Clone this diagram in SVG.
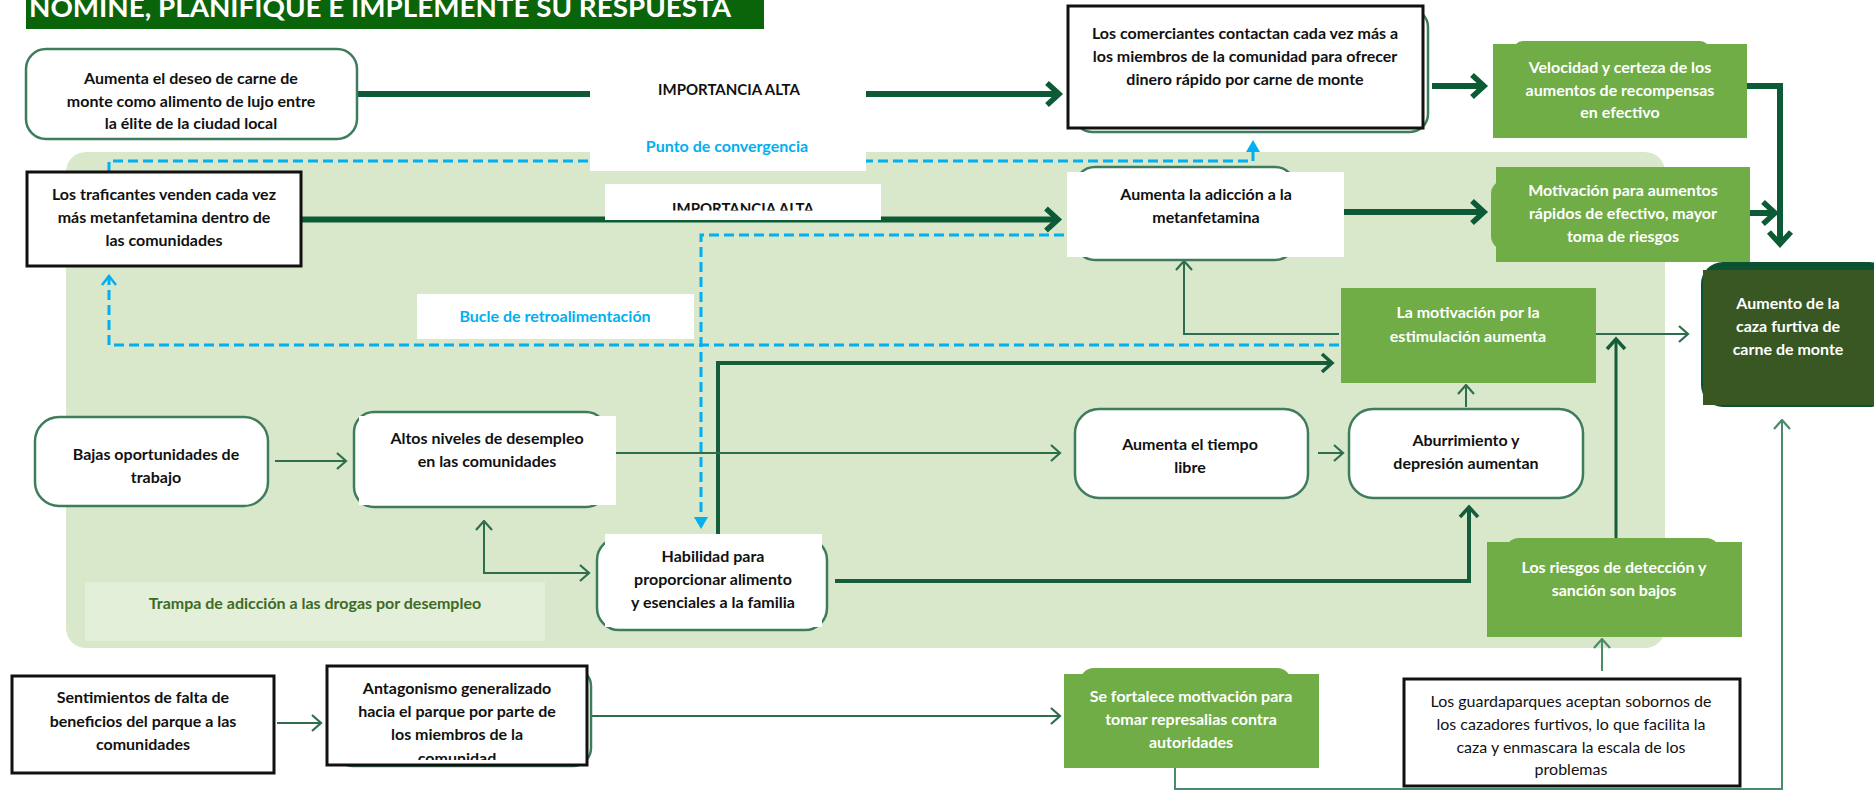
<svg xmlns="http://www.w3.org/2000/svg" width="1874" height="791" viewBox="0 0 1874 791">
  <defs>
    <style>
      .t { font-family: Lato, "Liberation Sans", sans-serif; font-weight: 700; font-size: 16px; fill: #111111; text-anchor: middle; }
      .tw { fill: #ffffff; }
      .reg { font-weight: 400; }
      .blue { fill: #00b0f0; }
      .cap { font-size: 15px; }
      .round { fill: #ffffff; stroke: #3e7c5c; stroke-width: 2.5; }
      .boxed { fill: #ffffff; stroke: #111111; stroke-width: 3; }
      .green { fill: #70ad47; }
      .thick { fill: none; stroke: #0c5a36; stroke-width: 6; }
      .mid { fill: none; stroke: #155d3a; stroke-width: 4; }
      .thin { fill: none; stroke: #2e6e4e; stroke-width: 2; }
      .light { fill: none; stroke: #4b8a6a; stroke-width: 2; }
      .dash { fill: none; stroke: #00b0f0; stroke-width: 3; stroke-dasharray: 10 5; }
    </style>
    <marker id="ahThick" viewBox="0 0 20 28" markerWidth="20" markerHeight="28" refX="15" refY="14" orient="auto" markerUnits="userSpaceOnUse">
      <path d="M3,3 L15,14 L3,25" fill="none" stroke="#0c5a36" stroke-width="5.5"/>
    </marker>
    <marker id="ahMid" viewBox="0 0 16 22" markerWidth="16" markerHeight="22" refX="12" refY="11" orient="auto" markerUnits="userSpaceOnUse">
      <path d="M2,2 L12,11 L2,20" fill="none" stroke="#155d3a" stroke-width="3.5"/>
    </marker>
    <marker id="ahThin" viewBox="0 0 12 20" markerWidth="12" markerHeight="20" refX="10.5" refY="10" orient="auto-start-reverse" markerUnits="userSpaceOnUse">
      <path d="M1.5,2 L10.5,10 L1.5,18" fill="none" stroke="#2e6e4e" stroke-width="2.2"/>
    </marker>
    <marker id="ahLight" viewBox="0 0 12 20" markerWidth="12" markerHeight="20" refX="10.5" refY="10" orient="auto" markerUnits="userSpaceOnUse">
      <path d="M1.5,2 L10.5,10 L1.5,18" fill="none" stroke="#4b8a6a" stroke-width="2.2"/>
    </marker>
    <marker id="ahBlueFill" viewBox="0 0 12 14" markerWidth="12" markerHeight="14" refX="2" refY="7" orient="auto" markerUnits="userSpaceOnUse">
      <path d="M0,0 L12,7 L0,14 Z" fill="#00b0f0"/>
    </marker>
    <marker id="ahBlueOpen" viewBox="0 0 12 16" markerWidth="12" markerHeight="16" refX="10" refY="8" orient="auto" markerUnits="userSpaceOnUse">
      <path d="M1,1 L10,8 L1,15" fill="none" stroke="#00b0f0" stroke-width="2.5"/>
    </marker>
    <clipPath id="clipImp2"><rect x="605" y="184" width="276" height="26.5"/></clipPath>
    <clipPath id="clipAntag"><rect x="329" y="668" width="256" height="92"/></clipPath>
  </defs>

  <rect width="1874" height="791" fill="#ffffff"/>

  <!-- heading banner -->
  <g id="title">
    <rect x="26" y="0" width="738" height="29" fill="#0a640a"/>
    <text x="29" y="17" font-family="Lato, 'Liberation Sans', sans-serif" font-weight="700" font-size="27" fill="#ffffff" textLength="702" lengthAdjust="spacingAndGlyphs">NOMINE, PLANIFIQUE E IMPLEMENTE SU RESPUESTA</text>
  </g>

  <!-- shaded loop area -->
  <g id="loop-area">
    <rect x="66" y="152" width="1599" height="496" rx="20" fill="#d9e8cb"/>
    <rect x="85" y="582" width="460" height="59" fill="#e3efd9"/>
    <text class="t" x="315" y="609" style="fill:#3d6b24">Trampa de adicción a las drogas por desempleo</text>
  </g>

  <g id="connectors">
    <!-- strong links -->
    <path class="thick" d="M358,94 H1059" marker-end="url(#ahThick)"/>
    <path class="thick" d="M302,219.5 H1058" marker-end="url(#ahThick)"/>
    <path class="thick" d="M1432,86 H1484" marker-end="url(#ahThick)"/>
    <path class="thick" d="M1747,86 H1780 V244" marker-end="url(#ahThick)"/>
    <path class="thick" d="M1344,212 H1484" marker-end="url(#ahThick)"/>
    <path class="thick" d="M1750,213 H1775" marker-end="url(#ahThick)"/>
    <!-- medium links -->
    <path class="mid" d="M835,581 H1469 V507" marker-end="url(#ahMid)"/>
    <path class="mid" d="M718,534 V363 H1332" marker-end="url(#ahMid)"/>
    <path class="mid" d="M1616,542 V339" style="stroke-width:3" marker-end="url(#ahMid)"/>
    <!-- thin links -->
    <path class="thin" d="M275,461 H346" marker-end="url(#ahThin)"/>
    <path class="thin" d="M616,453 H1060" marker-end="url(#ahThin)"/>
    <path class="thin" d="M1318,453 H1343" marker-end="url(#ahThin)"/>
    <path class="thin" d="M1466,407 V385" marker-end="url(#ahThin)"/>
    <path class="thin" d="M1596,334 H1688" marker-end="url(#ahThin)"/>
    <path class="thin" d="M1339,334 H1184 V261" marker-end="url(#ahThin)"/>
    <path class="thin" d="M484,521 V573 H589" marker-start="url(#ahThin)" marker-end="url(#ahThin)"/>
    <path class="thin" d="M277,723 H321" marker-end="url(#ahThin)"/>
    <path class="thin" d="M587,716 H1060" marker-end="url(#ahThin)"/>
    <path class="light" d="M1602,671 V639" marker-end="url(#ahLight)"/>
    <path class="light" d="M1175,768 V789 H1782 V420" marker-end="url(#ahLight)"/>
    <!-- dashed feedback paths -->
    <path class="dash" d="M109,172 V161 H1253 V150" marker-end="url(#ahBlueFill)"/>
    <path class="dash" d="M1339,345 H109 V276" marker-end="url(#ahBlueOpen)"/>
    <path class="dash" d="M1064,235 H701 V519" marker-end="url(#ahBlueFill)"/>
  </g>

  <g id="labels">
    <rect x="590" y="62" width="276" height="109" fill="#ffffff"/>
    <text class="t cap" x="729" y="95">IMPORTANCIA ALTA</text>
    <text class="t blue" x="727" y="152">Punto de convergencia</text>
    <rect x="605" y="184" width="276" height="36" fill="#ffffff"/>
    <text class="t cap" x="743" y="213.5" clip-path="url(#clipImp2)">IMPORTANCIA ALTA</text>
    <rect x="417" y="294" width="277" height="45" fill="#ffffff"/>
    <text class="t blue" x="555" y="322">Bucle de retroalimentación</text>
  </g>

  <g id="node-deseo">
    <rect class="round" x="26" y="49" width="331" height="90" rx="20"/>
    <text class="t" x="191" y="84">Aumenta el deseo de carne de</text>
    <text class="t" x="191" y="107">monte como alimento de lujo entre</text>
    <text class="t" x="191" y="129">la élite de la ciudad local</text>
  </g>

  <g id="node-comerciantes">
    <rect class="round" x="1074" y="9" width="354" height="123" rx="18"/>
    <rect class="boxed" x="1068" y="6" width="355" height="122"/>
    <text class="t" x="1245" y="39">Los comerciantes contactan cada vez más a</text>
    <text class="t" x="1245" y="62">los miembros de la comunidad para ofrecer</text>
    <text class="t" x="1245" y="85">dinero rápido por carne de monte</text>
  </g>

  <g id="node-velocidad">
    <rect class="green" x="1513" y="41" width="197" height="20" rx="10"/>
    <rect class="green" x="1493" y="44" width="254" height="94"/>
    <text class="t tw" x="1620" y="73">Velocidad y certeza de los</text>
    <text class="t tw" x="1620" y="96">aumentos de recompensas</text>
    <text class="t tw" x="1620" y="118">en efectivo</text>
  </g>

  <g id="node-traficantes">
    <rect class="boxed" x="27" y="172" width="274" height="94"/>
    <text class="t" x="164" y="200">Los traficantes venden cada vez</text>
    <text class="t" x="164" y="223">más metanfetamina dentro de</text>
    <text class="t" x="164" y="246">las comunidades</text>
  </g>

  <g id="node-adiccion">
    <rect class="round" x="1075" y="167" width="220" height="93" rx="20"/>
    <rect x="1067" y="172" width="277" height="85" fill="#ffffff"/>
    <text class="t" x="1206" y="200">Aumenta la adicción a la</text>
    <text class="t" x="1206" y="223">metanfetamina</text>
  </g>

  <g id="node-motivacion-efectivo">
    <rect class="green" x="1491" y="180" width="30" height="70" rx="14"/>
    <rect class="green" x="1496" y="167" width="254" height="95"/>
    <text class="t tw" x="1623" y="196">Motivación para aumentos</text>
    <text class="t tw" x="1623" y="219">rápidos de efectivo, mayor</text>
    <text class="t tw" x="1623" y="242">toma de riesgos</text>
  </g>

  <g id="node-caza-furtiva">
    <rect x="1701" y="262" width="190" height="145" rx="22" fill="#0c5232"/>
    <rect x="1703" y="270" width="171" height="135" fill="#385723"/>
    <text class="t tw" x="1788" y="309">Aumento de la</text>
    <text class="t tw" x="1788" y="332">caza furtiva de</text>
    <text class="t tw" x="1788" y="355">carne de monte</text>
  </g>

  <g id="node-estimulacion">
    <rect class="green" x="1341" y="288" width="255" height="95"/>
    <text class="t tw" x="1468" y="318">La motivación por la</text>
    <text class="t tw" x="1468" y="342">estimulación aumenta</text>
  </g>

  <g id="node-aburrimiento">
    <rect class="round" x="1349" y="409" width="234" height="89" rx="24"/>
    <text class="t" x="1466" y="446">Aburrimiento y</text>
    <text class="t" x="1466" y="469">depresión aumentan</text>
  </g>

  <g id="node-tiempo-libre">
    <rect class="round" x="1075" y="409" width="233" height="89" rx="24"/>
    <text class="t" x="1190" y="450">Aumenta el tiempo</text>
    <text class="t" x="1190" y="473">libre</text>
  </g>

  <g id="node-oportunidades">
    <rect class="round" x="35" y="417" width="233" height="89" rx="24"/>
    <text class="t" x="156" y="460">Bajas oportunidades de</text>
    <text class="t" x="156" y="483">trabajo</text>
  </g>

  <g id="node-desempleo">
    <rect class="round" x="354" y="412" width="252" height="95" rx="20"/>
    <rect x="359" y="416" width="257" height="89" fill="#ffffff"/>
    <text class="t" x="487" y="444">Altos niveles de desempleo</text>
    <text class="t" x="487" y="467">en las comunidades</text>
  </g>

  <g id="node-habilidad">
    <rect class="round" x="597" y="538" width="230" height="92" rx="22"/>
    <rect x="605" y="534" width="217" height="93" fill="#ffffff"/>
    <text class="t" x="713" y="562">Habilidad para</text>
    <text class="t" x="713" y="585">proporcionar alimento</text>
    <text class="t" x="713" y="608">y esenciales a la familia</text>
  </g>

  <g id="node-sentimientos">
    <rect class="boxed" x="12" y="676" width="262" height="97"/>
    <text class="t" x="143" y="703">Sentimientos de falta de</text>
    <text class="t" x="143" y="727">beneficios del parque a las</text>
    <text class="t" x="143" y="750">comunidades</text>
  </g>

  <g id="node-antagonismo">
    <rect class="round" x="335" y="668" width="256" height="98" rx="18"/>
    <rect class="boxed" x="327" y="666" width="260" height="99"/>
    <g clip-path="url(#clipAntag)">
      <text class="t" x="457" y="694">Antagonismo generalizado</text>
      <text class="t" x="457" y="717">hacia el parque por parte de</text>
      <text class="t" x="457" y="740">los miembros de la</text>
      <text class="t" x="457" y="764">comunidad</text>
    </g>
  </g>

  <g id="node-represalias">
    <rect class="green" x="1080" y="668" width="211" height="30" rx="14"/>
    <rect class="green" x="1064" y="674" width="255" height="94"/>
    <text class="t tw" x="1191" y="702">Se fortalece motivación para</text>
    <text class="t tw" x="1191" y="725">tomar represalias contra</text>
    <text class="t tw" x="1191" y="748">autoridades</text>
  </g>

  <g id="node-riesgos">
    <rect class="green" x="1505" y="538" width="215" height="30" rx="14"/>
    <rect class="green" x="1487" y="542" width="255" height="95"/>
    <text class="t tw" x="1614" y="573">Los riesgos de detección y</text>
    <text class="t tw" x="1614" y="596">sanción son bajos</text>
  </g>

  <g id="node-guardaparques">
    <rect class="boxed" x="1404" y="679" width="336" height="107"/>
    <text class="t reg" x="1571" y="707">Los guardaparques aceptan sobornos de</text>
    <text class="t reg" x="1571" y="730">los cazadores furtivos, lo que facilita la</text>
    <text class="t reg" x="1571" y="753">caza y enmascara la escala de los</text>
    <text class="t reg" x="1571" y="775">problemas</text>
  </g>
</svg>
